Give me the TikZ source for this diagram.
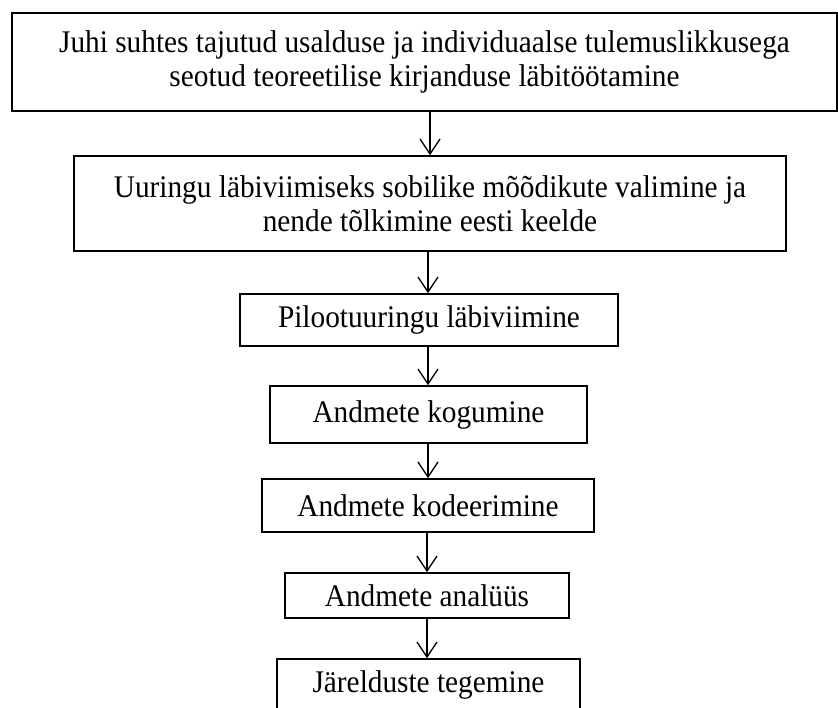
\documentclass[tikz,border=0pt]{standalone}
\usepackage{fontspec}
\setmainfont[FakeStretch=0.93]{Liberation Serif}
\usetikzlibrary{arrows.meta}
\begin{document}
\begin{tikzpicture}[x=1pt,y=-1pt,
  stepbox/.style={draw,line width=1.6pt,inner sep=0pt,align=center,
    font=\fontsize{31.5}{34}\selectfont},
  flow/.style={line width=1.3pt,-{Straight Barb[length=15pt,width=20pt,line width=1.3pt]}}]
\useasboundingbox (0,0) rectangle (838,707);
\clip (0,0) rectangle (838,707);
\node[stepbox,minimum width=825pt,minimum height=98pt] (s1) at (424.5,62)
  {Juhi suhtes tajutud usalduse ja individuaalse tulemuslikkusega\\seotud teoreetilise kirjanduse läbitöötamine};
\node[stepbox,minimum width=712pt,minimum height=95pt] (s2) at (430,203.5)
  {Uuringu läbiviimiseks sobilike mõõdikute valimine ja\\nende tõlkimine eesti keelde};
\node[stepbox,minimum width=378pt,minimum height=52pt] (s3) at (429,320)
  {Pilootuuringu läbiviimine};
\node[stepbox,minimum width=317pt,minimum height=57pt] (s4) at (428.5,414.5)
  {Andmete kogumine};
\node[stepbox,minimum width=332pt,minimum height=53pt] (s5) at (428,505.5)
  {Andmete kodeerimine};
\node[stepbox,minimum width=284pt,minimum height=45pt] (s6) at (427,595.5)
  {Andmete analüüs};
\node[stepbox,minimum width=303pt,minimum height=52pt] (s7) at (428.5,685)
  {Järelduste tegemine};
\draw[flow] (s1.south -| 430,0) -- (s2.north -| 430,0);
\draw[flow] (s2.south -| 428,0) -- (s3.north -| 428,0);
\draw[flow] (s3.south -| 428,0) -- (s4.north -| 428,0);
\draw[flow] (s4.south -| 428,0) -- (s5.north -| 428,0);
\draw[flow] (s5.south -| 427,0) -- (s6.north -| 427,0);
\draw[flow] (s6.south -| 427,0) -- (s7.north -| 427,0);
\end{tikzpicture}
\end{document}
